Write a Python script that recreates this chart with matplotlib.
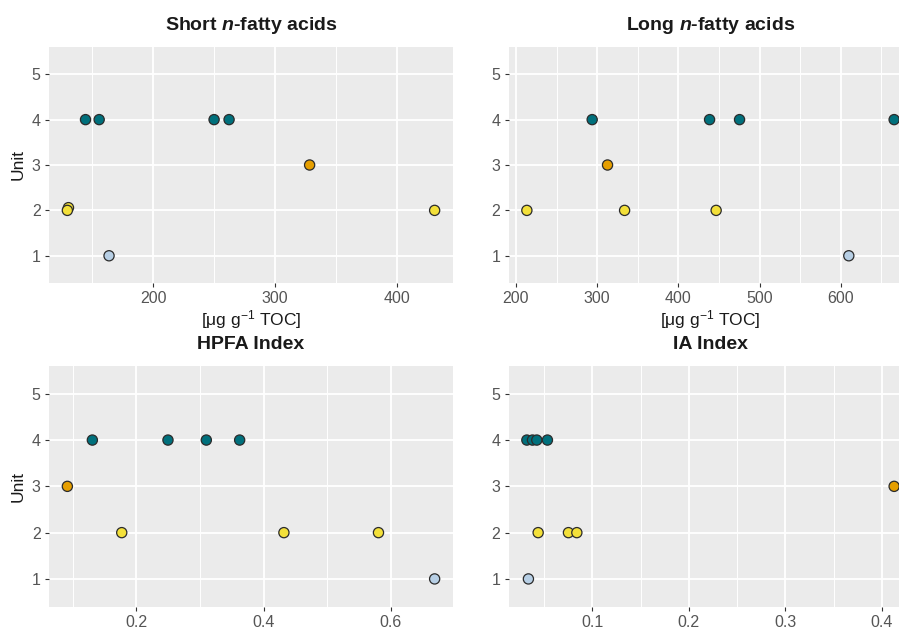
import matplotlib
matplotlib.use("Agg")
import matplotlib.pyplot as plt
from matplotlib.ticker import MultipleLocator

plt.rcParams['font.family'] = ['Liberation Sans', 'DejaVu Sans']
plt.rcParams['mathtext.fontset'] = 'custom'
plt.rcParams['mathtext.rm'] = 'Liberation Sans'
plt.rcParams['mathtext.it'] = 'Liberation Sans:italic:bold'
plt.rcParams['mathtext.bf'] = 'Liberation Sans:bold'

# Unit colours
unit_colors = {1: '#B7CFE5', 2: '#F3E03A', 3: '#E69F00', 4: '#00707C'}

# Short n-fatty acids [ug g-1 TOC]
short_x = [144.5, 155.7, 250.0, 262.3, 328.4, 431.0, 130.5, 129.6, 163.8]
short_y = [4, 4, 4, 4, 3, 2, 2.06, 2, 1]

# Long n-fatty acids [ug g-1 TOC]
long_x = [293.9, 438.4, 475.3, 665.6, 312.8, 213.5, 333.8, 446.5, 609.8]
long_y = [4, 4, 4, 4, 3, 2, 2, 2, 1]

# HPFA Index
hpfa_x = [0.1308, 0.2497, 0.310, 0.3624, 0.0915, 0.177, 0.432, 0.5807, 0.669]
hpfa_y = [4, 4, 4, 4, 3, 2, 2, 2, 1]

# IA Index
ia_x = [0.0321, 0.0379, 0.0424, 0.0534, 0.4127, 0.0438, 0.0752, 0.0839, 0.0337]
ia_y = [4, 4, 4, 4, 3, 2, 2, 2, 1]

unit_levels = [1, 2, 3, 4, 5]

fig = plt.figure(figsize=(8.99, 6.28), dpi=100)

W, H = 899, 628
def pos(l, t, r, b):
    return [l / W, 1 - b / H, (r - l) / W, (b - t) / H]

panels = [
    (pos(49, 47, 453, 283), short_x, short_y, r'Short $\mathit{n}$-fatty acids', True, True, 100, 50),
    (pos(508.5, 47, 912.5, 283), long_x, long_y, r'Long $\mathit{n}$-fatty acids', False, True, 100, 50),
    (pos(49, 366, 453, 606.7), hpfa_x, hpfa_y, 'HPFA Index', True, False, 0.2, 0.1),
    (pos(508.5, 366, 912.5, 606.7), ia_x, ia_y, 'IA Index', False, False, 0.1, 0.05),
]

for rect, xs, ys, title, show_unit, show_xlab, major, minor in panels:
    ax = fig.add_axes(rect)
    ax.set_facecolor('#EBEBEB')
    for s in ax.spines.values():
        s.set_visible(False)
    cols = [unit_colors[int(round(y))] for y in ys]
    ax.scatter(xs, ys, s=54, c=cols, edgecolors='#2b2b2b', linewidths=0.9, zorder=3)
    ax.margins(x=0.05)
    ax.set_ylim(0.4, 5.6)
    ax.set_yticks(unit_levels)
    ax.set_yticklabels([str(u) for u in unit_levels])
    ax.xaxis.set_major_locator(MultipleLocator(major))
    ax.xaxis.set_minor_locator(MultipleLocator(minor))
    ax.grid(which='major', color='white', linewidth=1.3, zorder=0)
    ax.grid(which='minor', axis='x', color='white', linewidth=0.7, zorder=0)
    ax.set_axisbelow(True)
    ax.tick_params(axis='both', which='major', length=3, width=0.8, color='#333333',
                   labelcolor='#555555', labelsize=11.5, pad=3)
    ax.tick_params(axis='x', which='minor', length=0)
    ax.set_title(title, fontsize=14, fontweight='bold', color='#1a1a1a', pad=12)
    if show_unit:
        ax.set_ylabel('Unit', fontsize=12.5, color='#1a1a1a', labelpad=4)
    if show_xlab:
        ax.set_xlabel(r'[μg g$^{-1}$ TOC]', fontsize=12.5, color='#1a1a1a', labelpad=1)

fig.savefig('out.png', dpi=100)
